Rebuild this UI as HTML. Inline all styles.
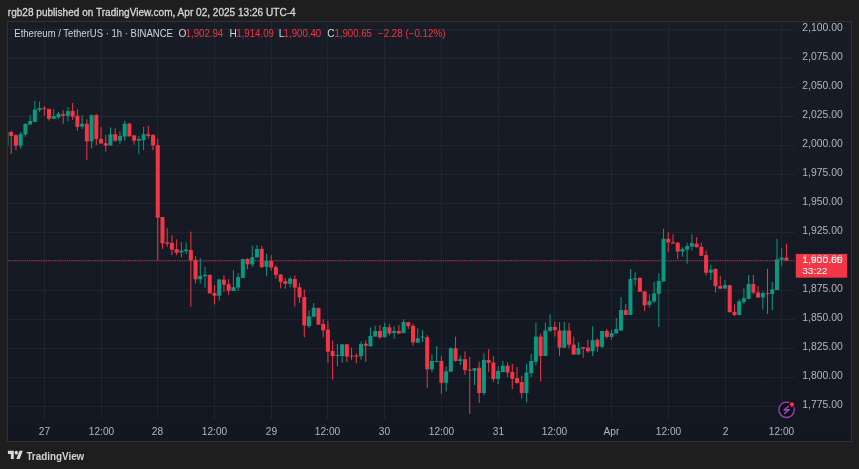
<!DOCTYPE html>
<html><head><meta charset="utf-8"><style>
*{margin:0;padding:0}
html,body{width:859px;height:469px;overflow:hidden;background:#1e1e1e}
svg{display:block;font-family:"Liberation Sans",Arial,sans-serif}
</style></head><body>
<svg width="859" height="469" viewBox="0 0 859 469">
<defs><linearGradient id="bgg" x1="0" y1="0" x2="0" y2="1"><stop offset="0" stop-color="#181c27"/><stop offset="1" stop-color="#131722"/></linearGradient></defs>
<rect x="7.5" y="21.5" width="844" height="420" fill="url(#bgg)" stroke="#313131"/>
<g stroke="#2a2e39" stroke-opacity="0.55" stroke-width="1"><line x1="8" y1="29.5" x2="795" y2="29.5"/><line x1="8" y1="58.5" x2="795" y2="58.5"/><line x1="8" y1="87.5" x2="795" y2="87.5"/><line x1="8" y1="116.5" x2="795" y2="116.5"/><line x1="8" y1="145.5" x2="795" y2="145.5"/><line x1="8" y1="174.5" x2="795" y2="174.5"/><line x1="8" y1="203.5" x2="795" y2="203.5"/><line x1="8" y1="232.5" x2="795" y2="232.5"/><line x1="8" y1="261.5" x2="795" y2="261.5"/><line x1="8" y1="290.5" x2="795" y2="290.5"/><line x1="8" y1="319.5" x2="795" y2="319.5"/><line x1="8" y1="348.5" x2="795" y2="348.5"/><line x1="8" y1="377.5" x2="795" y2="377.5"/><line x1="8" y1="406.5" x2="795" y2="406.5"/><line x1="44.5" y1="22" x2="44.5" y2="419"/><line x1="101.5" y1="22" x2="101.5" y2="419"/><line x1="157.5" y1="22" x2="157.5" y2="419"/><line x1="214.5" y1="22" x2="214.5" y2="419"/><line x1="271.5" y1="22" x2="271.5" y2="419"/><line x1="327.5" y1="22" x2="327.5" y2="419"/><line x1="384.5" y1="22" x2="384.5" y2="419"/><line x1="441.5" y1="22" x2="441.5" y2="419"/><line x1="498.5" y1="22" x2="498.5" y2="419"/><line x1="554.5" y1="22" x2="554.5" y2="419"/><line x1="611.5" y1="22" x2="611.5" y2="419"/><line x1="668.5" y1="22" x2="668.5" y2="419"/><line x1="725.5" y1="22" x2="725.5" y2="419"/><line x1="781.5" y1="22" x2="781.5" y2="419"/></g>
<line x1="8" y1="260.5" x2="795" y2="260.5" stroke="#f23645" stroke-width="1" stroke-dasharray="1.17 1.18" stroke-opacity="0.75"/>
<defs><clipPath id="cp"><rect x="8" y="22" width="787" height="397"/></clipPath></defs>
<g clip-path="url(#cp)"><rect x="5.98" y="132.00" width="1" height="14.00" fill="#089981"/><rect x="4.48" y="132.10" width="4" height="13.50" fill="#089981"/><rect x="10.71" y="130.70" width="1" height="23.20" fill="#f23645"/><rect x="9.21" y="132.10" width="4" height="4.00" fill="#f23645"/><rect x="15.44" y="134.20" width="1" height="15.90" fill="#f23645"/><rect x="13.94" y="135.20" width="4" height="10.40" fill="#f23645"/><rect x="20.16" y="132.10" width="1" height="16.60" fill="#089981"/><rect x="18.66" y="134.10" width="4" height="11.50" fill="#089981"/><rect x="24.89" y="123.40" width="1" height="13.40" fill="#089981"/><rect x="23.39" y="123.80" width="4" height="10.70" fill="#089981"/><rect x="29.62" y="115.10" width="1" height="9.40" fill="#089981"/><rect x="28.12" y="121.00" width="4" height="3.50" fill="#089981"/><rect x="34.35" y="100.80" width="1" height="21.20" fill="#089981"/><rect x="32.85" y="109.50" width="4" height="12.50" fill="#089981"/><rect x="39.07" y="101.60" width="1" height="10.30" fill="#089981"/><rect x="37.57" y="108.20" width="4" height="1.80" fill="#089981"/><rect x="43.80" y="106.40" width="1" height="9.40" fill="#f23645"/><rect x="42.30" y="107.90" width="4" height="1.00" fill="#f23645"/><rect x="48.53" y="108.90" width="1" height="11.70" fill="#f23645"/><rect x="47.03" y="108.90" width="4" height="9.90" fill="#f23645"/><rect x="53.25" y="109.30" width="1" height="9.50" fill="#089981"/><rect x="51.75" y="116.00" width="4" height="2.80" fill="#089981"/><rect x="57.98" y="112.00" width="1" height="6.80" fill="#089981"/><rect x="56.48" y="113.70" width="4" height="3.50" fill="#089981"/><rect x="62.71" y="110.20" width="1" height="13.60" fill="#f23645"/><rect x="61.21" y="114.10" width="4" height="1.70" fill="#f23645"/><rect x="67.44" y="107.00" width="1" height="14.30" fill="#089981"/><rect x="65.94" y="111.20" width="4" height="4.60" fill="#089981"/><rect x="72.16" y="103.00" width="1" height="16.90" fill="#f23645"/><rect x="70.66" y="110.90" width="4" height="5.80" fill="#f23645"/><rect x="76.89" y="109.30" width="1" height="21.40" fill="#f23645"/><rect x="75.39" y="115.80" width="4" height="11.10" fill="#f23645"/><rect x="81.62" y="115.10" width="1" height="13.80" fill="#089981"/><rect x="80.12" y="123.80" width="4" height="2.80" fill="#089981"/><rect x="86.34" y="119.20" width="1" height="40.70" fill="#f23645"/><rect x="84.84" y="123.80" width="4" height="17.60" fill="#f23645"/><rect x="91.07" y="114.40" width="1" height="34.10" fill="#089981"/><rect x="89.57" y="115.10" width="4" height="26.30" fill="#089981"/><rect x="95.80" y="114.10" width="1" height="30.90" fill="#f23645"/><rect x="94.30" y="115.10" width="4" height="23.90" fill="#f23645"/><rect x="100.52" y="127.10" width="1" height="16.40" fill="#f23645"/><rect x="99.02" y="139.00" width="4" height="4.50" fill="#f23645"/><rect x="105.25" y="134.80" width="1" height="16.70" fill="#f23645"/><rect x="103.75" y="143.20" width="4" height="2.40" fill="#f23645"/><rect x="109.98" y="127.50" width="1" height="18.10" fill="#089981"/><rect x="108.48" y="134.20" width="4" height="11.40" fill="#089981"/><rect x="114.70" y="128.20" width="1" height="13.60" fill="#f23645"/><rect x="113.20" y="134.20" width="4" height="6.50" fill="#f23645"/><rect x="119.43" y="131.30" width="1" height="12.50" fill="#089981"/><rect x="117.93" y="136.10" width="4" height="4.60" fill="#089981"/><rect x="124.16" y="121.00" width="1" height="19.70" fill="#089981"/><rect x="122.66" y="123.80" width="4" height="12.80" fill="#089981"/><rect x="128.89" y="122.70" width="1" height="13.90" fill="#f23645"/><rect x="127.39" y="123.70" width="4" height="12.60" fill="#f23645"/><rect x="133.61" y="134.80" width="1" height="9.80" fill="#f23645"/><rect x="132.11" y="135.40" width="4" height="5.30" fill="#f23645"/><rect x="138.34" y="136.10" width="1" height="17.80" fill="#089981"/><rect x="136.84" y="139.00" width="4" height="1.70" fill="#089981"/><rect x="143.07" y="126.90" width="1" height="23.20" fill="#089981"/><rect x="141.57" y="134.20" width="4" height="5.80" fill="#089981"/><rect x="147.79" y="125.70" width="1" height="12.90" fill="#f23645"/><rect x="146.29" y="134.20" width="4" height="1.70" fill="#f23645"/><rect x="152.52" y="134.00" width="1" height="16.20" fill="#f23645"/><rect x="151.02" y="135.10" width="4" height="10.40" fill="#f23645"/><rect x="157.25" y="138.90" width="1" height="121.30" fill="#f23645"/><rect x="155.75" y="145.10" width="4" height="72.60" fill="#f23645"/><rect x="161.98" y="217.00" width="1" height="31.80" fill="#f23645"/><rect x="160.48" y="217.00" width="4" height="26.30" fill="#f23645"/><rect x="166.70" y="228.10" width="1" height="18.60" fill="#f23645"/><rect x="165.20" y="242.40" width="4" height="1.40" fill="#f23645"/><rect x="171.43" y="235.20" width="1" height="19.80" fill="#f23645"/><rect x="169.93" y="242.90" width="4" height="6.70" fill="#f23645"/><rect x="176.16" y="239.30" width="1" height="15.90" fill="#f23645"/><rect x="174.66" y="249.10" width="4" height="3.70" fill="#f23645"/><rect x="180.88" y="242.00" width="1" height="15.40" fill="#089981"/><rect x="179.38" y="250.50" width="4" height="1.90" fill="#089981"/><rect x="185.61" y="242.60" width="1" height="11.60" fill="#089981"/><rect x="184.11" y="249.50" width="4" height="1.80" fill="#089981"/><rect x="190.34" y="231.60" width="1" height="75.10" fill="#f23645"/><rect x="188.84" y="250.00" width="4" height="10.40" fill="#f23645"/><rect x="195.06" y="256.00" width="1" height="27.50" fill="#f23645"/><rect x="193.56" y="259.90" width="4" height="19.40" fill="#f23645"/><rect x="199.79" y="258.30" width="1" height="25.20" fill="#089981"/><rect x="198.29" y="275.90" width="4" height="3.40" fill="#089981"/><rect x="204.52" y="266.90" width="1" height="21.00" fill="#089981"/><rect x="203.02" y="274.80" width="4" height="1.40" fill="#089981"/><rect x="209.25" y="274.50" width="1" height="18.90" fill="#f23645"/><rect x="207.75" y="274.90" width="4" height="18.50" fill="#f23645"/><rect x="213.97" y="285.00" width="1" height="19.50" fill="#f23645"/><rect x="212.47" y="292.90" width="4" height="2.90" fill="#f23645"/><rect x="218.70" y="279.00" width="1" height="21.70" fill="#089981"/><rect x="217.20" y="279.40" width="4" height="16.30" fill="#089981"/><rect x="223.43" y="275.30" width="1" height="16.40" fill="#f23645"/><rect x="221.93" y="279.60" width="4" height="5.00" fill="#f23645"/><rect x="228.15" y="279.20" width="1" height="15.70" fill="#f23645"/><rect x="226.65" y="284.20" width="4" height="6.60" fill="#f23645"/><rect x="232.88" y="270.20" width="1" height="20.80" fill="#089981"/><rect x="231.38" y="287.20" width="4" height="3.80" fill="#089981"/><rect x="237.61" y="273.10" width="1" height="17.90" fill="#089981"/><rect x="236.11" y="277.10" width="4" height="10.50" fill="#089981"/><rect x="242.33" y="258.90" width="1" height="19.10" fill="#089981"/><rect x="240.83" y="259.10" width="4" height="18.90" fill="#089981"/><rect x="247.06" y="258.20" width="1" height="11.00" fill="#f23645"/><rect x="245.56" y="258.90" width="4" height="5.50" fill="#f23645"/><rect x="251.79" y="245.70" width="1" height="21.20" fill="#089981"/><rect x="250.29" y="257.20" width="4" height="7.20" fill="#089981"/><rect x="256.51" y="245.00" width="1" height="12.50" fill="#089981"/><rect x="255.01" y="248.90" width="4" height="8.50" fill="#089981"/><rect x="261.24" y="245.80" width="1" height="22.20" fill="#f23645"/><rect x="259.74" y="248.90" width="4" height="18.20" fill="#f23645"/><rect x="265.97" y="253.70" width="1" height="22.60" fill="#089981"/><rect x="264.47" y="261.00" width="4" height="5.90" fill="#089981"/><rect x="270.70" y="255.10" width="1" height="15.60" fill="#f23645"/><rect x="269.20" y="261.00" width="4" height="6.50" fill="#f23645"/><rect x="275.42" y="265.20" width="1" height="13.40" fill="#f23645"/><rect x="273.92" y="267.10" width="4" height="7.80" fill="#f23645"/><rect x="280.15" y="274.10" width="1" height="14.20" fill="#f23645"/><rect x="278.65" y="274.50" width="4" height="7.30" fill="#f23645"/><rect x="284.88" y="278.20" width="1" height="10.50" fill="#f23645"/><rect x="283.38" y="281.10" width="4" height="2.70" fill="#f23645"/><rect x="289.60" y="277.20" width="1" height="10.20" fill="#089981"/><rect x="288.10" y="278.60" width="4" height="5.20" fill="#089981"/><rect x="294.33" y="275.50" width="1" height="31.20" fill="#f23645"/><rect x="292.83" y="279.00" width="4" height="8.70" fill="#f23645"/><rect x="299.06" y="283.20" width="1" height="19.80" fill="#f23645"/><rect x="297.56" y="287.30" width="4" height="10.10" fill="#f23645"/><rect x="303.79" y="289.70" width="1" height="47.50" fill="#f23645"/><rect x="302.29" y="297.00" width="4" height="28.50" fill="#f23645"/><rect x="308.51" y="310.20" width="1" height="17.60" fill="#089981"/><rect x="307.01" y="316.40" width="4" height="9.70" fill="#089981"/><rect x="313.24" y="303.00" width="1" height="13.80" fill="#089981"/><rect x="311.74" y="307.70" width="4" height="9.10" fill="#089981"/><rect x="317.97" y="307.70" width="1" height="17.00" fill="#f23645"/><rect x="316.47" y="308.10" width="4" height="16.60" fill="#f23645"/><rect x="322.69" y="319.20" width="1" height="18.20" fill="#f23645"/><rect x="321.19" y="324.00" width="4" height="6.30" fill="#f23645"/><rect x="327.42" y="320.80" width="1" height="42.00" fill="#f23645"/><rect x="325.92" y="329.60" width="4" height="22.10" fill="#f23645"/><rect x="332.15" y="340.40" width="1" height="39.20" fill="#f23645"/><rect x="330.65" y="351.00" width="4" height="5.00" fill="#f23645"/><rect x="336.87" y="343.90" width="1" height="22.40" fill="#089981"/><rect x="335.37" y="354.90" width="4" height="1.10" fill="#089981"/><rect x="341.60" y="343.90" width="1" height="18.60" fill="#089981"/><rect x="340.10" y="344.30" width="4" height="11.70" fill="#089981"/><rect x="346.33" y="343.90" width="1" height="18.00" fill="#f23645"/><rect x="344.83" y="344.30" width="4" height="12.30" fill="#f23645"/><rect x="351.06" y="347.70" width="1" height="12.10" fill="#f23645"/><rect x="349.56" y="355.60" width="4" height="1.00" fill="#f23645"/><rect x="355.78" y="353.30" width="1" height="9.90" fill="#f23645"/><rect x="354.28" y="355.60" width="4" height="1.00" fill="#f23645"/><rect x="360.51" y="341.40" width="1" height="18.40" fill="#089981"/><rect x="359.01" y="343.90" width="4" height="12.40" fill="#089981"/><rect x="365.24" y="340.30" width="1" height="21.50" fill="#f23645"/><rect x="363.74" y="343.70" width="4" height="2.10" fill="#f23645"/><rect x="369.96" y="327.30" width="1" height="19.20" fill="#089981"/><rect x="368.46" y="336.00" width="4" height="10.30" fill="#089981"/><rect x="374.69" y="325.90" width="1" height="10.70" fill="#089981"/><rect x="373.19" y="331.00" width="4" height="5.60" fill="#089981"/><rect x="379.42" y="325.00" width="1" height="13.80" fill="#f23645"/><rect x="377.92" y="331.00" width="4" height="6.40" fill="#f23645"/><rect x="384.14" y="322.70" width="1" height="14.60" fill="#089981"/><rect x="382.64" y="327.00" width="4" height="10.30" fill="#089981"/><rect x="388.87" y="323.90" width="1" height="11.70" fill="#f23645"/><rect x="387.37" y="327.30" width="4" height="6.20" fill="#f23645"/><rect x="393.60" y="326.30" width="1" height="12.50" fill="#089981"/><rect x="392.10" y="331.00" width="4" height="1.90" fill="#089981"/><rect x="398.33" y="325.00" width="1" height="8.80" fill="#f23645"/><rect x="396.83" y="331.00" width="4" height="2.50" fill="#f23645"/><rect x="403.05" y="319.30" width="1" height="13.80" fill="#089981"/><rect x="401.55" y="322.00" width="4" height="11.10" fill="#089981"/><rect x="407.78" y="321.60" width="1" height="7.30" fill="#f23645"/><rect x="406.28" y="322.20" width="4" height="3.90" fill="#f23645"/><rect x="412.51" y="323.60" width="1" height="22.10" fill="#f23645"/><rect x="411.01" y="325.80" width="4" height="16.60" fill="#f23645"/><rect x="417.23" y="328.20" width="1" height="14.50" fill="#089981"/><rect x="415.73" y="338.30" width="4" height="4.40" fill="#089981"/><rect x="421.96" y="330.20" width="1" height="11.80" fill="#089981"/><rect x="420.46" y="336.50" width="4" height="1.00" fill="#089981"/><rect x="426.69" y="335.10" width="1" height="52.80" fill="#f23645"/><rect x="425.19" y="337.20" width="4" height="32.10" fill="#f23645"/><rect x="431.41" y="354.10" width="1" height="18.20" fill="#089981"/><rect x="429.91" y="361.00" width="4" height="8.30" fill="#089981"/><rect x="436.14" y="346.10" width="1" height="16.30" fill="#089981"/><rect x="434.64" y="361.00" width="4" height="1.00" fill="#089981"/><rect x="440.87" y="356.10" width="1" height="37.80" fill="#f23645"/><rect x="439.37" y="361.00" width="4" height="21.80" fill="#f23645"/><rect x="445.60" y="366.60" width="1" height="24.90" fill="#089981"/><rect x="444.10" y="371.30" width="4" height="11.50" fill="#089981"/><rect x="450.32" y="347.20" width="1" height="24.50" fill="#089981"/><rect x="448.82" y="348.20" width="4" height="23.50" fill="#089981"/><rect x="455.05" y="336.70" width="1" height="24.90" fill="#f23645"/><rect x="453.55" y="348.20" width="4" height="12.80" fill="#f23645"/><rect x="459.78" y="355.50" width="1" height="9.70" fill="#089981"/><rect x="458.28" y="359.20" width="4" height="1.80" fill="#089981"/><rect x="464.50" y="351.30" width="1" height="23.60" fill="#f23645"/><rect x="463.00" y="359.20" width="4" height="10.90" fill="#f23645"/><rect x="469.23" y="356.90" width="1" height="57.10" fill="#f23645"/><rect x="467.73" y="369.60" width="4" height="1.10" fill="#f23645"/><rect x="473.96" y="368.10" width="1" height="16.90" fill="#089981"/><rect x="472.46" y="368.10" width="4" height="2.60" fill="#089981"/><rect x="478.68" y="361.70" width="1" height="41.20" fill="#f23645"/><rect x="477.18" y="367.70" width="4" height="25.40" fill="#f23645"/><rect x="483.41" y="353.20" width="1" height="42.20" fill="#089981"/><rect x="481.91" y="359.90" width="4" height="33.20" fill="#089981"/><rect x="488.14" y="349.20" width="1" height="22.70" fill="#f23645"/><rect x="486.64" y="359.90" width="4" height="3.00" fill="#f23645"/><rect x="492.87" y="356.20" width="1" height="25.80" fill="#f23645"/><rect x="491.37" y="362.60" width="4" height="16.40" fill="#f23645"/><rect x="497.59" y="366.10" width="1" height="18.20" fill="#089981"/><rect x="496.09" y="371.00" width="4" height="7.90" fill="#089981"/><rect x="502.32" y="360.90" width="1" height="11.20" fill="#089981"/><rect x="500.82" y="365.70" width="4" height="6.40" fill="#089981"/><rect x="507.05" y="362.40" width="1" height="14.60" fill="#f23645"/><rect x="505.55" y="365.70" width="4" height="6.80" fill="#f23645"/><rect x="511.77" y="363.90" width="1" height="25.10" fill="#f23645"/><rect x="510.27" y="372.10" width="4" height="6.70" fill="#f23645"/><rect x="516.50" y="367.20" width="1" height="16.40" fill="#f23645"/><rect x="515.00" y="378.10" width="4" height="4.90" fill="#f23645"/><rect x="521.23" y="375.80" width="1" height="22.70" fill="#f23645"/><rect x="519.73" y="382.10" width="4" height="10.90" fill="#f23645"/><rect x="525.95" y="363.90" width="1" height="38.50" fill="#089981"/><rect x="524.45" y="372.50" width="4" height="20.50" fill="#089981"/><rect x="530.68" y="354.00" width="1" height="23.20" fill="#089981"/><rect x="529.18" y="361.00" width="4" height="12.20" fill="#089981"/><rect x="535.41" y="322.70" width="1" height="42.80" fill="#089981"/><rect x="533.91" y="336.60" width="4" height="25.10" fill="#089981"/><rect x="540.13" y="333.50" width="1" height="48.10" fill="#f23645"/><rect x="538.63" y="336.60" width="4" height="19.40" fill="#f23645"/><rect x="544.86" y="322.50" width="1" height="33.50" fill="#089981"/><rect x="543.36" y="330.50" width="4" height="25.50" fill="#089981"/><rect x="549.59" y="314.20" width="1" height="18.00" fill="#089981"/><rect x="548.09" y="326.90" width="4" height="3.90" fill="#089981"/><rect x="554.32" y="321.80" width="1" height="14.80" fill="#f23645"/><rect x="552.82" y="326.90" width="4" height="3.20" fill="#f23645"/><rect x="559.04" y="322.20" width="1" height="33.70" fill="#f23645"/><rect x="557.54" y="330.50" width="4" height="17.20" fill="#f23645"/><rect x="563.77" y="321.80" width="1" height="25.90" fill="#089981"/><rect x="562.27" y="330.50" width="4" height="17.20" fill="#089981"/><rect x="568.50" y="322.90" width="1" height="25.10" fill="#f23645"/><rect x="567.00" y="330.50" width="4" height="14.20" fill="#f23645"/><rect x="573.22" y="336.60" width="1" height="18.00" fill="#f23645"/><rect x="571.72" y="344.60" width="4" height="10.00" fill="#f23645"/><rect x="577.95" y="342.10" width="1" height="12.50" fill="#089981"/><rect x="576.45" y="348.10" width="4" height="6.50" fill="#089981"/><rect x="582.68" y="347.10" width="1" height="10.70" fill="#f23645"/><rect x="581.18" y="347.10" width="4" height="1.40" fill="#f23645"/><rect x="587.40" y="339.80" width="1" height="12.90" fill="#f23645"/><rect x="585.90" y="347.70" width="4" height="3.60" fill="#f23645"/><rect x="592.13" y="326.30" width="1" height="29.70" fill="#089981"/><rect x="590.63" y="340.20" width="4" height="11.10" fill="#089981"/><rect x="596.86" y="338.40" width="1" height="13.40" fill="#f23645"/><rect x="595.36" y="339.80" width="4" height="6.90" fill="#f23645"/><rect x="601.59" y="331.00" width="1" height="17.10" fill="#089981"/><rect x="600.09" y="331.00" width="4" height="15.70" fill="#089981"/><rect x="606.31" y="329.00" width="1" height="9.70" fill="#f23645"/><rect x="604.81" y="330.90" width="4" height="6.00" fill="#f23645"/><rect x="611.04" y="329.70" width="1" height="10.30" fill="#089981"/><rect x="609.54" y="333.00" width="4" height="3.90" fill="#089981"/><rect x="615.77" y="318.10" width="1" height="15.30" fill="#089981"/><rect x="614.27" y="329.00" width="4" height="4.40" fill="#089981"/><rect x="620.49" y="297.20" width="1" height="34.00" fill="#089981"/><rect x="618.99" y="310.00" width="4" height="20.40" fill="#089981"/><rect x="625.22" y="304.00" width="1" height="11.30" fill="#f23645"/><rect x="623.72" y="310.10" width="4" height="4.80" fill="#f23645"/><rect x="629.95" y="269.10" width="1" height="45.90" fill="#089981"/><rect x="628.45" y="279.00" width="4" height="36.00" fill="#089981"/><rect x="634.67" y="272.30" width="1" height="13.40" fill="#089981"/><rect x="633.17" y="278.20" width="4" height="1.30" fill="#089981"/><rect x="639.40" y="277.40" width="1" height="14.30" fill="#f23645"/><rect x="637.90" y="277.90" width="4" height="13.80" fill="#f23645"/><rect x="644.13" y="291.00" width="1" height="20.00" fill="#f23645"/><rect x="642.63" y="291.50" width="4" height="13.90" fill="#f23645"/><rect x="648.86" y="294.20" width="1" height="13.60" fill="#089981"/><rect x="647.36" y="301.10" width="4" height="3.80" fill="#089981"/><rect x="653.58" y="281.90" width="1" height="21.10" fill="#089981"/><rect x="652.08" y="293.40" width="4" height="8.00" fill="#089981"/><rect x="658.31" y="273.20" width="1" height="53.80" fill="#089981"/><rect x="656.81" y="280.90" width="4" height="12.80" fill="#089981"/><rect x="663.04" y="228.70" width="1" height="52.80" fill="#089981"/><rect x="661.54" y="238.70" width="4" height="42.80" fill="#089981"/><rect x="667.76" y="232.20" width="1" height="19.90" fill="#f23645"/><rect x="666.26" y="238.70" width="4" height="3.70" fill="#f23645"/><rect x="672.49" y="234.20" width="1" height="9.40" fill="#f23645"/><rect x="670.99" y="242.40" width="4" height="1.20" fill="#f23645"/><rect x="677.22" y="242.10" width="1" height="17.00" fill="#f23645"/><rect x="675.72" y="242.70" width="4" height="8.90" fill="#f23645"/><rect x="681.95" y="247.20" width="1" height="9.40" fill="#089981"/><rect x="680.45" y="249.10" width="4" height="2.50" fill="#089981"/><rect x="686.67" y="242.70" width="1" height="20.90" fill="#089981"/><rect x="685.17" y="246.10" width="4" height="3.50" fill="#089981"/><rect x="691.40" y="234.20" width="1" height="16.20" fill="#089981"/><rect x="689.90" y="243.20" width="4" height="3.30" fill="#089981"/><rect x="696.13" y="237.10" width="1" height="10.40" fill="#f23645"/><rect x="694.63" y="243.60" width="4" height="3.60" fill="#f23645"/><rect x="700.85" y="242.60" width="1" height="13.20" fill="#f23645"/><rect x="699.35" y="246.80" width="4" height="9.00" fill="#f23645"/><rect x="705.58" y="250.50" width="1" height="24.90" fill="#f23645"/><rect x="704.08" y="255.10" width="4" height="17.60" fill="#f23645"/><rect x="710.31" y="264.80" width="1" height="15.20" fill="#089981"/><rect x="708.81" y="269.60" width="4" height="3.10" fill="#089981"/><rect x="715.03" y="268.50" width="1" height="24.00" fill="#f23645"/><rect x="713.53" y="268.90" width="4" height="17.30" fill="#f23645"/><rect x="719.76" y="275.90" width="1" height="12.80" fill="#f23645"/><rect x="718.26" y="286.00" width="4" height="2.70" fill="#f23645"/><rect x="724.49" y="280.00" width="1" height="8.60" fill="#089981"/><rect x="722.99" y="285.10" width="4" height="3.50" fill="#089981"/><rect x="729.22" y="285.10" width="1" height="27.70" fill="#f23645"/><rect x="727.72" y="285.10" width="4" height="27.00" fill="#f23645"/><rect x="733.94" y="304.10" width="1" height="11.90" fill="#f23645"/><rect x="732.44" y="311.80" width="4" height="3.10" fill="#f23645"/><rect x="738.67" y="299.30" width="1" height="16.00" fill="#089981"/><rect x="737.17" y="301.30" width="4" height="13.60" fill="#089981"/><rect x="743.40" y="288.30" width="1" height="15.50" fill="#089981"/><rect x="741.90" y="298.20" width="4" height="3.90" fill="#089981"/><rect x="748.12" y="275.00" width="1" height="24.20" fill="#089981"/><rect x="746.62" y="284.10" width="4" height="14.80" fill="#089981"/><rect x="752.85" y="275.00" width="1" height="19.40" fill="#f23645"/><rect x="751.35" y="284.10" width="4" height="8.60" fill="#f23645"/><rect x="757.58" y="286.00" width="1" height="11.50" fill="#f23645"/><rect x="756.08" y="292.40" width="4" height="5.10" fill="#f23645"/><rect x="762.30" y="291.10" width="1" height="18.30" fill="#089981"/><rect x="760.80" y="293.10" width="4" height="4.30" fill="#089981"/><rect x="767.03" y="268.80" width="1" height="45.20" fill="#f23645"/><rect x="765.53" y="293.10" width="4" height="1.00" fill="#f23645"/><rect x="771.76" y="282.00" width="1" height="28.20" fill="#089981"/><rect x="770.26" y="289.40" width="4" height="4.60" fill="#089981"/><rect x="776.49" y="238.80" width="1" height="51.20" fill="#089981"/><rect x="774.99" y="259.30" width="4" height="30.70" fill="#089981"/><rect x="781.21" y="247.80" width="1" height="18.30" fill="#089981"/><rect x="779.71" y="257.60" width="4" height="2.20" fill="#089981"/><rect x="785.94" y="243.90" width="1" height="16.70" fill="#f23645"/><rect x="784.44" y="257.60" width="4" height="3.00" fill="#f23645"/></g>
<rect x="795.8" y="253.9" width="51.4" height="23.8" fill="#f23645"/>
<text x="802.3" y="31.4" font-size="10.3" fill="#b2b5be" textLength="40.4" lengthAdjust="spacingAndGlyphs">2,100.00</text><text x="802.3" y="60.4" font-size="10.3" fill="#b2b5be" textLength="40.4" lengthAdjust="spacingAndGlyphs">2,075.00</text><text x="802.3" y="89.4" font-size="10.3" fill="#b2b5be" textLength="40.4" lengthAdjust="spacingAndGlyphs">2,050.00</text><text x="802.3" y="118.4" font-size="10.3" fill="#b2b5be" textLength="40.4" lengthAdjust="spacingAndGlyphs">2,025.00</text><text x="802.3" y="147.4" font-size="10.3" fill="#b2b5be" textLength="40.4" lengthAdjust="spacingAndGlyphs">2,000.00</text><text x="802.3" y="176.4" font-size="10.3" fill="#b2b5be" textLength="40.4" lengthAdjust="spacingAndGlyphs">1,975.00</text><text x="802.3" y="205.4" font-size="10.3" fill="#b2b5be" textLength="40.4" lengthAdjust="spacingAndGlyphs">1,950.00</text><text x="802.3" y="234.4" font-size="10.3" fill="#b2b5be" textLength="40.4" lengthAdjust="spacingAndGlyphs">1,925.00</text><text x="802.3" y="263.4" font-size="10.3" fill="#b2b5be" textLength="40.4" lengthAdjust="spacingAndGlyphs">1,900.00</text><text x="802.3" y="292.4" font-size="10.3" fill="#b2b5be" textLength="40.4" lengthAdjust="spacingAndGlyphs">1,875.00</text><text x="802.3" y="321.4" font-size="10.3" fill="#b2b5be" textLength="40.4" lengthAdjust="spacingAndGlyphs">1,850.00</text><text x="802.3" y="350.4" font-size="10.3" fill="#b2b5be" textLength="40.4" lengthAdjust="spacingAndGlyphs">1,825.00</text><text x="802.3" y="379.4" font-size="10.3" fill="#b2b5be" textLength="40.4" lengthAdjust="spacingAndGlyphs">1,800.00</text><text x="802.3" y="408.4" font-size="10.3" fill="#b2b5be" textLength="40.4" lengthAdjust="spacingAndGlyphs">1,775.00</text><text x="44.5" y="434.8" font-size="10.15" fill="#b2b5be" text-anchor="middle">27</text><text x="101.5" y="434.8" font-size="10.15" fill="#b2b5be" text-anchor="middle">12:00</text><text x="157.5" y="434.8" font-size="10.15" fill="#b2b5be" text-anchor="middle">28</text><text x="214.5" y="434.8" font-size="10.15" fill="#b2b5be" text-anchor="middle">12:00</text><text x="271.5" y="434.8" font-size="10.15" fill="#b2b5be" text-anchor="middle">29</text><text x="327.5" y="434.8" font-size="10.15" fill="#b2b5be" text-anchor="middle">12:00</text><text x="384.5" y="434.8" font-size="10.15" fill="#b2b5be" text-anchor="middle">30</text><text x="441.5" y="434.8" font-size="10.15" fill="#b2b5be" text-anchor="middle">12:00</text><text x="498.5" y="434.8" font-size="10.15" fill="#b2b5be" text-anchor="middle">31</text><text x="554.5" y="434.8" font-size="10.15" fill="#b2b5be" text-anchor="middle">12:00</text><text x="611.5" y="434.8" font-size="10.15" fill="#b2b5be" text-anchor="middle">Apr</text><text x="668.5" y="434.8" font-size="10.15" fill="#b2b5be" text-anchor="middle">12:00</text><text x="725.5" y="434.8" font-size="10.15" fill="#b2b5be" text-anchor="middle">2</text><text x="781.5" y="434.8" font-size="10.15" fill="#b2b5be" text-anchor="middle">12:00</text><text x="14.3" y="36.9" font-size="10.2" fill="#d1d4dc" textLength="158.6" lengthAdjust="spacingAndGlyphs">Ethereum / TetherUS · 1h · BINANCE</text><text x="178.4" y="36.9" font-size="10.2" fill="#d1d4dc">O</text><text x="185.6" y="36.9" font-size="10.2" fill="#f23645" textLength="37.6" lengthAdjust="spacingAndGlyphs">1,902.94</text><text x="229.4" y="36.9" font-size="10.2" fill="#d1d4dc">H</text><text x="236.3" y="36.9" font-size="10.2" fill="#f23645" textLength="37.6" lengthAdjust="spacingAndGlyphs">1,914.09</text><text x="278.8" y="36.9" font-size="10.2" fill="#d1d4dc">L</text><text x="283.6" y="36.9" font-size="10.2" fill="#f23645" textLength="37.6" lengthAdjust="spacingAndGlyphs">1,900.40</text><text x="327.2" y="36.9" font-size="10.2" fill="#d1d4dc">C</text><text x="334.4" y="36.9" font-size="10.2" fill="#f23645" textLength="37.6" lengthAdjust="spacingAndGlyphs">1,900.65</text><text x="378.0" y="36.9" font-size="10.2" fill="#f23645" textLength="67.4" lengthAdjust="spacingAndGlyphs">−2.28 (−0.12%)</text><text x="802.2" y="262.8" font-size="9.6" fill="#ffffff" textLength="40.4" lengthAdjust="spacingAndGlyphs">1,900.65</text><text x="802.2" y="273.7" font-size="9.6" fill="#ffffff" textLength="25.2" lengthAdjust="spacingAndGlyphs">33:22</text><text x="7.8" y="15.6" font-size="10.2" fill="#d6d6d6" textLength="287.8" lengthAdjust="spacingAndGlyphs" stroke="#d6d6d6" stroke-width="0.3">rgb28 published on TradingView.com, Apr 02, 2025 13:26 UTC-4</text><text x="26.4" y="459.7" font-size="10.5" fill="#d4d4d4" textLength="57.9" lengthAdjust="spacingAndGlyphs" font-weight="bold">TradingView</text>
<circle cx="786.6" cy="409.8" r="7.7" fill="#0e0f15" stroke="#9c40c4" stroke-width="1.3"/>
<polyline points="788.4,406.4 784,410 789.4,409.6 784.6,413.6" fill="none" stroke="#a848d2" stroke-width="1.3" stroke-linejoin="round" stroke-linecap="round"/>
<circle cx="792" cy="404.5" r="3.1" fill="#0e0f15"/>
<circle cx="792" cy="404.5" r="2.2" fill="#f23645"/>
<g transform="translate(7.9,449) scale(0.42,0.46)" fill="#d9d9d9"><path d="M14 22H7V11H0V4h14v18zM28 22h-8l7.5-18h8L28 22z"/><circle cx="20" cy="8" r="4"/></g>
</svg>
</body></html>
